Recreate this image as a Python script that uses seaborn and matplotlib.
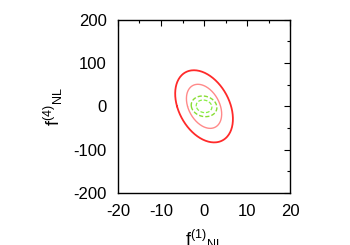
import matplotlib
matplotlib.use("Agg")
import matplotlib.pyplot as plt
import numpy as np
import pandas as pd
import seaborn as sns

# Fisher-ellipse parameters
labels = ["red 2sigma", "red 1sigma", "green 2sigma", "green 1sigma"]
sigma_x = [2.7, 2.7, 1.2, 1.2]
sigma_y = [33.5, 33.5, 9.6, 9.6]
rho = [-0.35, -0.35, -0.12, -0.12]
delta_chi2 = [6.17, 2.30, 6.17, 2.30]
colors = ["#ff2a2a", "#ff8a8a", "#88dd33", "#88ee44"]
widths = [1.3, 1.0, 1.0, 0.9]
dashed = [False, False, True, True]

x_ticks = [-20, -10, 0, 10, 20]
y_ticks = [-200, -100, 0, 100, 200]


def ellipse(sx, sy, r, a, n=200):
    t = np.linspace(0, 2 * np.pi, n)
    cov = np.array([[sx ** 2, r * sx * sy], [r * sx * sy, sy ** 2]])
    vals, vecs = np.linalg.eigh(cov)
    circ = np.vstack([np.cos(t), np.sin(t)]) * np.sqrt(a * vals)[:, None]
    pts = vecs @ circ
    return pts[0], pts[1]


sns.set_style("white")
plt.rcParams["font.family"] = ["Liberation Sans", "DejaVu Sans"]
plt.rcParams["mathtext.fontset"] = "custom"
plt.rcParams["mathtext.rm"] = "Liberation Sans"
plt.rcParams["mathtext.it"] = "Liberation Sans"
plt.rcParams["axes.unicode_minus"] = False
plt.rcParams["text.color"] = "black"
plt.rcParams["axes.labelcolor"] = "black"

fig = plt.figure(figsize=(3.5, 2.45), dpi=100)
ax = fig.add_axes([0.337, 0.212, 0.492, 0.708])

for i, name in enumerate(labels):
    ex, ey = ellipse(sigma_x[i], sigma_y[i], rho[i], delta_chi2[i])
    df = pd.DataFrame({"x": ex, "y": ey})
    sns.lineplot(data=df, x="x", y="y", sort=False, estimator=None, ax=ax,
                 color=colors[i], linewidth=widths[i],
                 linestyle=(0, (3, 1.5)) if dashed[i] else "-")

ax.set_xlim(-20, 20)
ax.set_ylim(-200, 200)
ax.set_xticks(x_ticks)
ax.set_yticks(y_ticks)
ax.set_xticks([-15, -5, 5, 15], minor=True)
ax.set_yticks([-150, -50, 50, 150], minor=True)
ax.tick_params(axis="both", which="both", direction="in", top=True, right=True,
               labelsize=12, pad=8, colors="black")
ax.tick_params(which="major", length=4, width=0.8)
ax.tick_params(which="minor", length=2, width=0.8)
for s in ax.spines.values():
    s.set_visible(True)
    s.set_color("black")
    s.set_linewidth(1.0)

ax.set_xlabel(r"$\mathrm{f}^{(1)}{}_{\mathrm{NL}}$", fontsize=13, labelpad=6)
ax.set_ylabel(r"$\mathrm{f}^{(4)}{}_{\mathrm{NL}}$", fontsize=13, labelpad=6)

fig.savefig("out.png", dpi=100)
